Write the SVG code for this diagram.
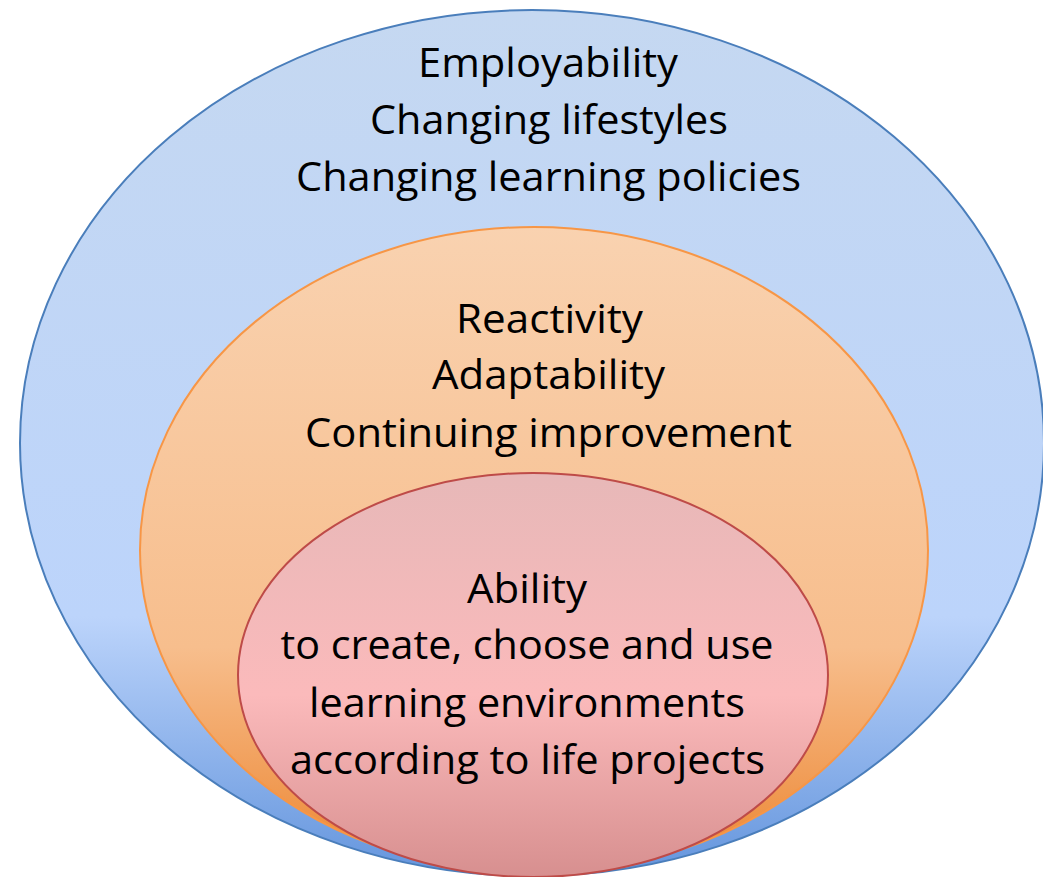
<svg xmlns="http://www.w3.org/2000/svg" width="1043" height="877" viewBox="0 0 1043 877">
<defs>
<linearGradient id="gBlue" x1="0" y1="0" x2="0" y2="1">
<stop offset="0" stop-color="#C5D8F1"/>
<stop offset="0.7" stop-color="#BCD4FB"/>
<stop offset="1" stop-color="#6495DD"/>
</linearGradient>
<linearGradient id="gOrange" x1="0" y1="0" x2="0" y2="1">
<stop offset="0" stop-color="#F9D2B0"/>
<stop offset="0.65" stop-color="#F7BE8D"/>
<stop offset="1" stop-color="#EC8530"/>
</linearGradient>
<linearGradient id="gPink" x1="0" y1="0" x2="0" y2="1">
<stop offset="0" stop-color="#E7B8B8"/>
<stop offset="0.55" stop-color="#FBBABB"/>
<stop offset="1" stop-color="#D78F8F"/>
</linearGradient>
</defs>
<style>
.t{font-family:"Open Sans","Liberation Sans",sans-serif;font-size:40px;fill:#000;text-anchor:middle}
</style>
<rect width="1043" height="877" fill="#FFFFFF"/>
<g id="outer">
<ellipse cx="532" cy="443" rx="512" ry="433" fill="url(#gBlue)" stroke="#4A7EBB" stroke-width="2"/>
<text class="t" x="548" y="77" textLength="260" lengthAdjust="spacingAndGlyphs">Employability</text>
<text class="t" x="549" y="134" textLength="358" lengthAdjust="spacingAndGlyphs">Changing lifestyles</text>
<text class="t" x="548.5" y="191" textLength="505" lengthAdjust="spacingAndGlyphs">Changing learning policies</text>
</g>
<g id="middle">
<ellipse cx="534" cy="550" rx="394" ry="323" fill="url(#gOrange)" stroke="#F79646" stroke-width="2"/>
<text class="t" x="549.5" y="333" textLength="187" lengthAdjust="spacingAndGlyphs">Reactivity</text>
<text class="t" x="548.5" y="389" textLength="233" lengthAdjust="spacingAndGlyphs">Adaptability</text>
<text class="t" x="548.5" y="447" textLength="487" lengthAdjust="spacingAndGlyphs">Continuing improvement</text>
</g>
<g id="inner">
<ellipse cx="533" cy="675" rx="295" ry="202" fill="url(#gPink)" stroke="#BE4B48" stroke-width="2"/>
<text class="t" x="527" y="603" textLength="120" lengthAdjust="spacingAndGlyphs">Ability</text>
<text class="t" x="527" y="659" textLength="493" lengthAdjust="spacingAndGlyphs">to create, choose and use</text>
<text class="t" x="527" y="717" textLength="436" lengthAdjust="spacingAndGlyphs">learning environments</text>
<text class="t" x="527.5" y="774" textLength="475" lengthAdjust="spacingAndGlyphs">according to life projects</text>
</g>
<g id="connectors"/>
</svg>
